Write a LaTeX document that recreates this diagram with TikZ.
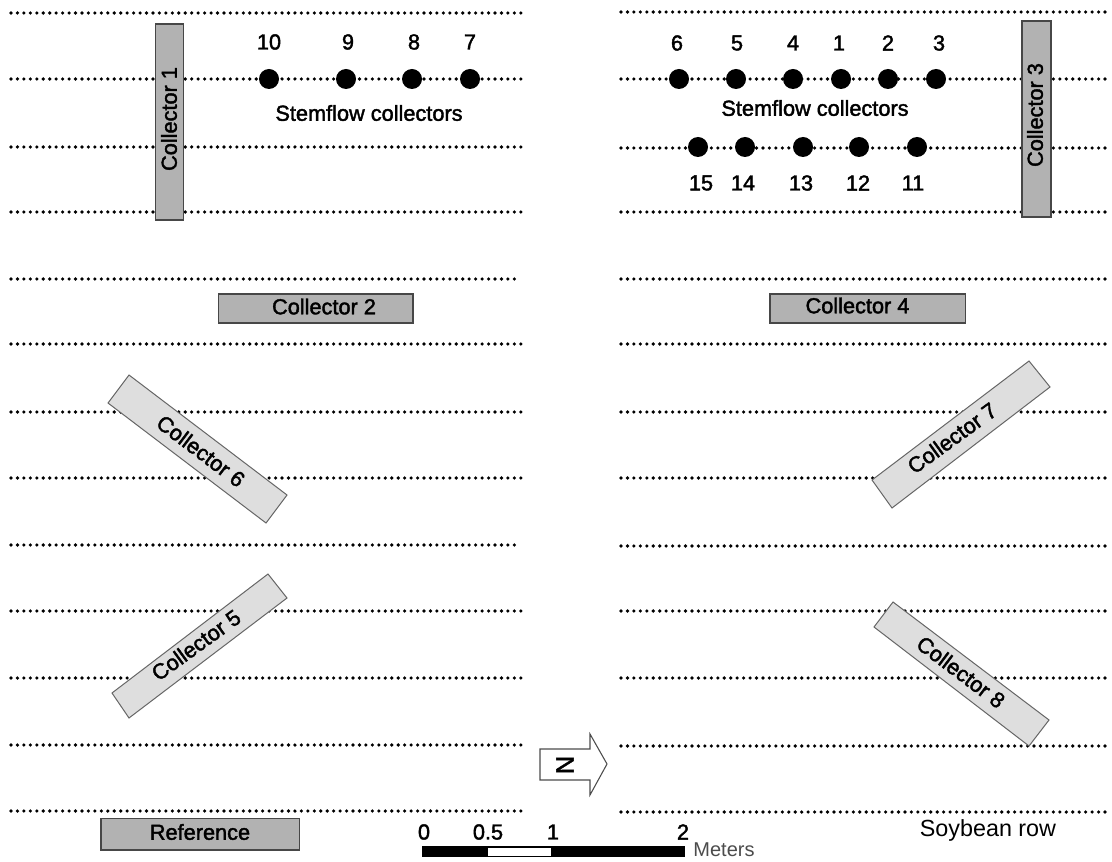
\documentclass[tikz,border=0pt]{standalone}
\usepackage{fontspec}
\setmainfont[FakeBold=1.8]{Liberation Sans}
\newfontfamily\thinfont{Liberation Sans}
\tikzset{
  x=0.75pt,y=-0.75pt,
  rowline/.style={line width=2.7pt,line cap=round,dash pattern=on 0pt off 4.84pt,black},
  collectorA/.style={draw=black!72,line width=0.95pt,fill=black!30},
  collectorB/.style={draw=black!60,line width=0.75pt,fill=black!13},
  label/.style={font=\fontsize{16.3}{18}\selectfont,text=black,inner sep=0pt},
  stem/.style={circle,fill=black,minimum size=15pt,inner sep=0pt},
}
\begin{document}
\begin{tikzpicture}
\useasboundingbox (0,0) rectangle (1112,862);
\fill[white] (0,0) rectangle (1112,862);
% rows
\foreach \y/\e in {13/523,79/523,147/523,212/523,279/516,344/523,412/523,478/523,545/516,611/523,678/523,745/523,811/523}
  \draw[rowline] (11,\y) -- (\e,\y);
\foreach \y in {12,79,148,212,279,344,412,478,546,611,678,746,812}
  \draw[rowline] (621,\y) -- (1109,\y);
% straight collectors
\draw[collectorA] (155.5,24) rectangle (183.5,220);
\node[label,rotate=90] (c1) at (169,119) {Collector 1};
\draw[collectorA] (1022,21) rectangle (1051,217);
\node[label,rotate=90] (c3) at (1035,115) {Collector 3};
\draw[collectorA] (218.5,294) rectangle (413,323);
\node[label] (c2) at (324,306.5) {Collector 2};
\draw[collectorA] (770,294) rectangle (965.5,323);
\node[label] (c4) at (857.5,305.5) {Collector 4};
\draw[collectorA] (101,818.5) rectangle (299.5,850);
\node[label] (ref) at (200,832) {Reference};
% angled collectors
\draw[collectorB] (129,375) -- (287,495) -- (266,523) -- (108,403) -- cycle;
\node[label,rotate=-37] (c6) at (201,451) {Collector 6};
\draw[collectorB] (1029,361) -- (1050,387) -- (892,508) -- (872,480) -- cycle;
\node[label,rotate=36] (c7) at (952,438) {Collector 7};
\draw[collectorB] (268,574) -- (287,598) -- (129,718) -- (112,693) -- cycle;
\node[label,rotate=36] (c5) at (196,645) {Collector 5};
\draw[collectorB] (893,602) -- (1049,720) -- (1029,746) -- (874,627) -- cycle;
\node[label,rotate=-37] (c8) at (961,672) {Collector 8};
% stemflow
\foreach \x/\n/\lx in {269/10/269,346/9/348,412/8/414,470/7/470}{
  \node[stem] (s\n) at (\x,79) {};
  \node[label] (t\n) at (\lx,42) {\n};
}
\foreach \x/\n/\lx in {679/6/677,736/5/737,793/4/793,841/1/839,888/2/888,936/3/939}{
  \node[stem] (s\n) at (\x,79) {};
  \node[label] (t\n) at (\lx,43) {\n};
}
\foreach \x/\n/\lx in {698/15/701,745/14/743,803/13/801,859/12/858,917/11/913}{
  \node[stem] (s\n) at (\x,147) {};
  \node[label] (t\n) at (\lx,183) {\n};
}
\node[label] (sfa) at (369,113) {Stemflow collectors};
\node[label] (sfb) at (815,108) {Stemflow collectors};
% north arrow
\draw[draw=black!70,line width=0.8pt,fill=white] (540,749) -- (590,749) -- (590,734) -- (607,764) -- (590,795) -- (590,780) -- (540,780) -- cycle;
\node[label,rotate=90] (north) at (565,765) {\fontsize{19}{19}\selectfont N};
% scale bar
\fill[black] (422,846) rectangle (685,857);
\fill[white] (488,847.5) rectangle (551,855.5);
\node[label] (z0) at (424,832) {0};
\node[label] (z05) at (488,832) {0.5};
\node[label] (z1) at (553,832) {1};
\node[label] (z2) at (683,832) {2};
\node[label,text=black!70,font=\thinfont\fontsize{15}{17}\selectfont] (m) at (724,850) {Meters};
\node[label,font=\thinfont\fontsize{17.5}{19}\selectfont] (soy) at (988,830) {Soybean row};
\end{tikzpicture}
\end{document}
